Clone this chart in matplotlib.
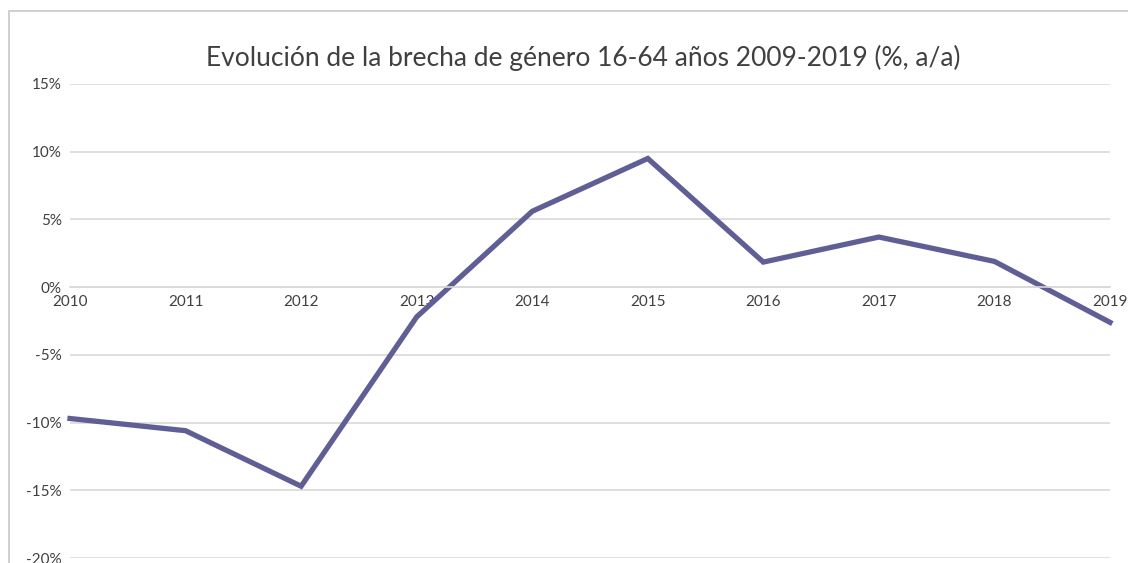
import matplotlib.pyplot as plt
from matplotlib.patches import Rectangle

years = [2010, 2011, 2012, 2013, 2014, 2015, 2016, 2017, 2018, 2019]
brecha = [-9.7, -10.6, -14.7, -2.2, 5.6, 9.5, 1.85, 3.7, 1.9, -2.6]
yticks = [-20, -15, -10, -5, 0, 5, 10, 15]

W, H = 1128, 563
fig = plt.figure(figsize=(W / 100, H / 100), dpi=100, facecolor='w')

# outer chart frame (Excel style)
fig.patches.append(Rectangle((9 / W, -0.1), 1.2, 1 - 11 / H + 0.1, transform=fig.transFigure,
                             fill=False, edgecolor='#c8c8c8', linewidth=1.2))

ax = fig.add_axes([70 / W, 1 - 558 / H, (1110 - 70) / W, (558 - 84) / H])
ax.plot(years, brecha, color='#5f5f96', linewidth=3.8, solid_joinstyle='miter', clip_on=False)

ax.set_xlim(2010, 2019)
ax.set_ylim(-20, 15)
ax.set_yticks(yticks)
ax.set_yticklabels(['%d%%' % v for v in yticks])
ax.set_xticks(years)
ax.set_xticklabels([str(y) for y in years])

ax.grid(axis='y', color='#d9d9d9', linewidth=1.2)
ax.set_axisbelow(True)
for s in ['top', 'right', 'left']:
    ax.spines[s].set_visible(False)
ax.spines['bottom'].set_position(('data', 0))
ax.spines['bottom'].set_color('#d9d9d9')
ax.spines['bottom'].set_linewidth(1.2)
ax.tick_params(axis='both', length=0, labelsize=11, labelcolor='#404040')
ax.tick_params(axis='y', pad=6)
ax.tick_params(axis='x', pad=6)
for lbl in ax.get_xticklabels() + ax.get_yticklabels():
    lbl.set_family('Lato')

fig.text(583 / W, 1 - 58 / H, 'Evolución de la brecha de género 16-64 años 2009-2019 (%, a/a)',
         ha='center', va='center', fontsize=19, color='#404040', family='Lato')

fig.savefig('out.png', dpi=100, facecolor='w')
